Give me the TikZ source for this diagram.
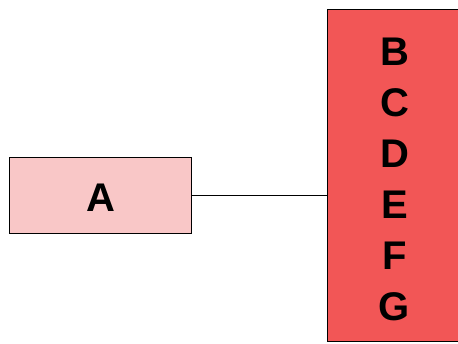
\documentclass[tikz,border=0pt]{standalone}
\usepackage{fontspec}
\setmainfont{Liberation Sans}
\definecolor{lightred}{RGB}{249,199,199}
\definecolor{strongred}{RGB}{242,86,86}
\begin{document}
\begin{tikzpicture}[x=1pt,y=-1pt,
  boxstyle/.style={draw=black, line width=1pt, rectangle, inner sep=0pt},
  bigtext/.style={font=\fontsize{40}{51}\selectfont\bfseries, inner sep=0pt, align=center}]
\useasboundingbox (0,0) rectangle (458,343);
\clip (0,0) rectangle (458,343);
\node[boxstyle, fill=lightred, minimum width=182pt, minimum height=76pt] (a) at (100,195) {};
\node[bigtext] (atext) at (101,198) {A};
\node[boxstyle, fill=strongred, minimum width=136pt, minimum height=332pt] (right) at (395,175) {};
\node[bigtext] (list) at (394.5,179.5) {B\\C\\D\\E\\F\\G};
\draw[line width=1pt] (a.east) -- (a.east -| right.west);
\end{tikzpicture}
\end{document}
